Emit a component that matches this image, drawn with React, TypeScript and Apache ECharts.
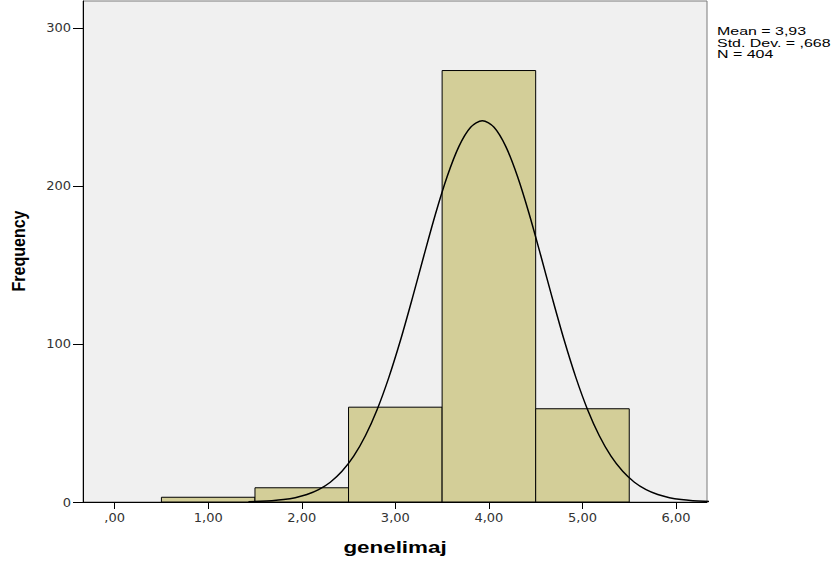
import React, { useEffect, useRef } from "react";
import * as echarts from "echarts";

const binStarts = [0.5, 1.5, 2.5, 3.5, 4.5];
const binEnds = [1.5, 2.5, 3.5, 4.5, 5.5];
const counts = [3, 9, 60, 273, 59];

const curveX = [
  1.43, 1.555, 1.68, 1.805, 1.93, 2.055, 2.18, 2.305, 2.43, 2.555, 2.68, 2.805, 2.93, 3.055, 3.18, 3.305, 3.43, 3.555, 3.68, 3.805,
  3.93,
  4.055, 4.18, 4.305, 4.43, 4.555, 4.68, 4.805, 4.93, 5.055, 5.18, 5.305, 5.43, 5.555, 5.68, 5.805, 5.93, 6.055, 6.18, 6.305, 6.43,
];
const curveY = [
  0.22, 0.43, 0.83, 1.53, 2.73, 4.7, 7.8, 12.5, 19.4, 29.0, 41.9, 58.4, 78.7, 102.3, 128.5, 155.8, 182.4, 206.1, 225.0, 237.1,
  241.3,
  237.1, 225.0, 206.1, 182.4, 155.8, 128.5, 102.3, 78.7, 58.4, 41.9, 29.0, 19.4, 12.5, 7.8, 4.7, 2.73, 1.53, 0.83, 0.43, 0.22,
];

const xTicks = [0, 1, 2, 3, 4, 5, 6];
const yTicks = [0, 100, 200, 300];
const statsLines = ["Mean = 3,93", "Std. Dev. = ,668", "N = 404"];

const fmtX = (v: number) => v.toFixed(2).replace(".", ",").replace(/^0/, "");

export default function App() {
  const ref = useRef<HTMLDivElement>(null);
  useEffect(() => {
    if (!ref.current) return;
    const chart = echarts.init(ref.current, null, { renderer: "svg" });
    const barData = binStarts.map((s, i) => [s, binEnds[i], counts[i]]);
    const curveData = curveX.map((x, i) => [x, curveY[i]]);
    chart.setOption({
      animation: false,
      backgroundColor: "#ffffff",
      grid: {
        left: 83,
        right: 131,
        top: 1,
        bottom: 63,
        show: true,
        backgroundColor: "#F0F0F0",
        borderColor: "#7a7a7a",
        borderWidth: 1,
      },
      xAxis: {
        type: "value",
        min: -0.338,
        max: 6.331,
        splitLine: { show: false },
        axisLine: { show: true, onZero: false, lineStyle: { color: "#000", width: 1 } },
        axisTick: { show: true, length: 7, customValues: xTicks, lineStyle: { color: "#000" } },
        axisLabel: {
          customValues: xTicks,
          formatter: fmtX,
          color: "#333",
          fontFamily: "DejaVu Sans",
          fontSize: 13,
          margin: 9,
        },
      },
      yAxis: {
        type: "value",
        min: 0,
        max: 317,
        splitLine: { show: false },
        axisLine: { show: true, onZero: false, lineStyle: { color: "#000", width: 1 } },
        axisTick: { show: true, length: 10, customValues: yTicks, lineStyle: { color: "#000" } },
        axisLabel: {
          customValues: yTicks,
          color: "#333",
          fontFamily: "DejaVu Sans",
          fontSize: 13,
          margin: 12,
        },
      },
      series: [
        {
          type: "custom",
          data: barData,
          encode: { x: [0, 1], y: 2 },
          renderItem: (params: any, api: any) => {
            const x0 = api.value(0);
            const x1 = api.value(1);
            const v = api.value(2);
            const p0 = api.coord([x0, v]);
            const p1 = api.coord([x1, 0]);
            return {
              type: "rect",
              shape: { x: p0[0], y: p0[1], width: p1[0] - p0[0], height: p1[1] - p0[1] },
              style: { fill: "#D3CE98", stroke: "#000", lineWidth: 1 },
            };
          },
          z: 2,
        },
        {
          type: "line",
          data: curveData,
          smooth: 0.3,
          clip: true,
          showSymbol: false,
          symbol: "none",
          lineStyle: { color: "#000", width: 1.5 },
          z: 3,
        },
      ],
      graphic: [
        {
          type: "text",
          x: 717,
          y: 26,
          scaleX: 1.45,
          style: {
            text: statsLines.join("\n"),
            font: '11px "Liberation Sans"',
            lineHeight: 11.5,
            fill: "#000",
          },
        },
        {
          type: "text",
          x: 395,
          y: 547,
          scaleX: 1.4,
          style: {
            text: "genelimaj",
            font: 'bold 16px "Liberation Sans"',
            textAlign: "center",
            textVerticalAlign: "middle",
            fill: "#000",
          },
        },
        {
          type: "text",
          x: 18,
          y: 251,
          rotation: Math.PI / 2,
          scaleY: 1.2,
          style: {
            text: "Frequency",
            font: 'bold 16px "Liberation Sans"',
            textAlign: "center",
            textVerticalAlign: "middle",
            fill: "#000",
          },
        },
      ],
    });
    return () => chart.dispose();
  }, []);
  return (
    <div
      ref={ref}
      style={{ position: "absolute", left: 0, top: 0, width: 838, height: 565 }}
    />
  );
}
